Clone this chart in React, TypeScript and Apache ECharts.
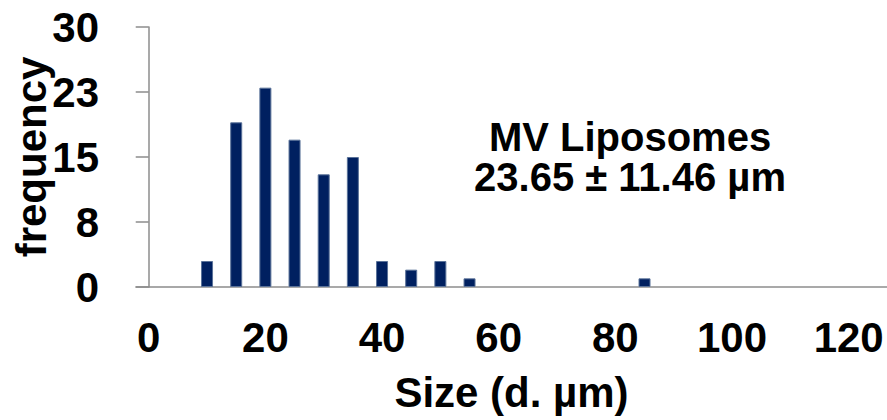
import React, { useEffect, useRef } from "react";
import * as echarts from "echarts";

const sizes = [10, 15, 20, 25, 30, 35, 40, 45, 50, 55, 85];
const frequencies = [3, 19, 23, 17, 13, 15, 3, 2, 3, 1, 1];
const xTickValues = [0, 20, 40, 60, 80, 100, 120];
const yTickLabels = ["0", "8", "15", "23", "30"];
const annotationLines = ["MV Liposomes", "23.65 ± 11.46 µm"];

const FONT = "'Liberation Sans', Arial, sans-serif";
const FS = 42;

export default function App() {
  const ref = useRef<HTMLDivElement>(null);
  useEffect(() => {
    if (!ref.current) return;
    const chart = echarts.init(ref.current, undefined, { renderer: "svg" });
    chart.setOption({
      animation: false,
      backgroundColor: "#ffffff",
      grid: {
        left: 136,
        right: 0,
        top: 27,
        bottom: 133,
        containLabel: false,
        outerBoundsMode: "none",
      },
      xAxis: {
        type: "value",
        min: -2.18,
        max: 126.57,
        name: "Size (d. µm)",
        nameLocation: "middle",
        nameGap: 84,
        nameMoveOverlap: false,
        nameTextStyle: { fontFamily: FONT, fontWeight: "bold", fontSize: FS, color: "#000" },
        axisLine: { show: true, lineStyle: { color: "#8c8c8c", width: 1.5 } },
        axisTick: { show: false },
        splitLine: { show: false },
        axisLabel: {
          customValues: xTickValues,
          margin: 29,
          fontFamily: FONT,
          fontWeight: "bold",
          fontSize: FS,
          color: "#000",
          formatter: (v: number) => String(v),
        },
      },
      yAxis: {
        type: "value",
        min: 0,
        max: 30,
        interval: 7.5,
        name: "frequency",
        nameLocation: "middle",
        nameGap: 84,
        nameMoveOverlap: false,
        nameTextStyle: { fontFamily: FONT, fontWeight: "bold", fontSize: FS, color: "#000" },
        axisLine: { show: true, lineStyle: { color: "#8c8c8c", width: 1.5 } },
        axisTick: { show: true, length: 13, lineStyle: { color: "#8c8c8c", width: 1.5 } },
        splitLine: { show: false },
        axisLabel: {
          margin: 37,
          fontFamily: FONT,
          fontWeight: "bold",
          fontSize: FS,
          color: "#000",
          formatter: (_v: number, i: number) => yTickLabels[i] ?? "",
        },
      },
      series: [
        {
          type: "bar",
          data: sizes.map((s, i) => [s, frequencies[i]]),
          barWidth: 12,
          itemStyle: { color: "#002060", borderColor: "#5a7299", borderWidth: 1 },
        },
      ],
      graphic: [
        {
          type: "text",
          x: 630,
          y: 157,
          style: {
            text: annotationLines.join("\n"),
            font: `bold 40px ${FONT}`,
            lineHeight: 40,
            fill: "#000",
            align: "center",
            verticalAlign: "middle",
          },
        },
      ],
    });
    return () => chart.dispose();
  }, []);
  return <div ref={ref} style={{ width: 887, height: 420, position: "absolute", left: 0, top: 0 }} />;
}
